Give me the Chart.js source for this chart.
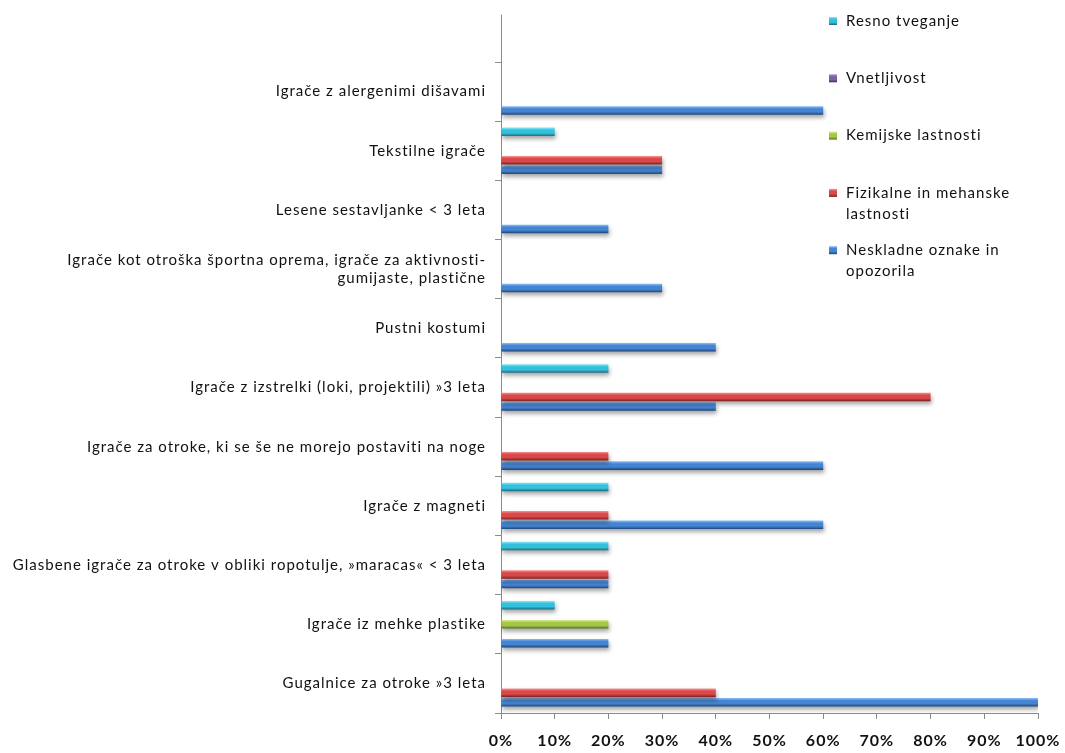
<!DOCTYPE html>
<html>
<head>
<meta charset="utf-8">
<script src="https://cdn.jsdelivr.net/npm/chart.js@4.4.0/dist/chart.umd.min.js"></script>
<style>
  html, body { margin: 0; padding: 0; background: #fff; }
  #wrap { width: 1065px; height: 753px; position: relative; }
</style>
</head>
<body>
<div id="wrap"><canvas id="canvas"></canvas></div>
<script>
// categories, top to bottom
var kategorije = [
  "Igrače z alergenimi dišavami",
  "Tekstilne igrače",
  "Lesene sestavljanke < 3 leta",
  ["Igrače kot otroška športna oprema, igrače za aktivnosti-", "gumijaste, plastične"],
  "Pustni kostumi",
  "Igrače z izstrelki (loki, projektili) »3 leta",
  "Igrače za otroke, ki se še ne morejo postaviti na noge",
  "Igrače z magneti",
  "Glasbene igrače za otroke v obliki ropotulje, »maracas« < 3 leta",
  "Igrače iz mehke plastike",
  "Gugalnice za otroke »3 leta"
];

// shares in %, same order as kategorije
var resnoTveganje      = [0, 10, 0, 0, 0, 20, 0, 20, 20, 10, 0];
var vnetljivost        = [0, 0, 0, 0, 0, 0, 0, 0, 0, 0, 0];
var kemijske           = [0, 0, 0, 0, 0, 0, 0, 0, 0, 20, 0];
var fizikalne          = [0, 30, 0, 0, 0, 80, 20, 20, 20, 0, 40];
var neskladneOznake    = [60, 30, 20, 30, 40, 40, 60, 60, 20, 20, 100];

var xTicks = [0, 10, 20, 30, 40, 50, 60, 70, 80, 90, 100];

// light / base / dark shades per series
var barve = {
  resno:     ["#8ae6f5", "#33c0dc", "#1b6a7b"],
  vnetlj:    ["#b096d0", "#7f5fa6", "#45305c"],
  kemijske:  ["#dbef9a", "#a6c64a", "#58701e"],
  fizikalne: ["#f79590", "#d9484a", "#781e1d"],
  neskladne: ["#8cc0f5", "#4584d2", "#1f4477"]
};

var serije = [
  { label: "Resno tveganje", data: resnoTveganje, c: barve.resno },
  { label: "Vnetljivost", data: vnetljivost, c: barve.vnetlj },
  { label: "Kemijske lastnosti", data: kemijske, c: barve.kemijske },
  { label: "Fizikalne in mehanske lastnosti", data: fizikalne, c: barve.fizikalne },
  { label: "Neskladne oznake in opozorila", data: neskladneOznake, c: barve.neskladne }
];

var gray = "#8a8a8a";
var razmik = "1px"; // wide letter spacing of the labels

function gradient(ctx, top, h, c) {
  var g = ctx.createLinearGradient(0, top, 0, top + h);
  g.addColorStop(0, c[0]);
  g.addColorStop(0.3, c[1]);
  g.addColorStop(0.65, c[1]);
  g.addColorStop(1, c[2]);
  return g;
}

// letter spacing has to be set again after every canvas resize
var pisava = {
  id: "pisava",
  beforeLayout: function(chart) { chart.ctx.letterSpacing = razmik; },
  beforeDraw: function(chart) { chart.ctx.letterSpacing = razmik; }
};

// shaded bars with a soft drop shadow
var senca = {
  id: "senca",
  beforeDatasetsDraw: function(chart) {
    var ctx = chart.ctx;
    chart.getSortedVisibleDatasetMetas().forEach(function(meta) {
      var c = serije[meta.index].c;
      meta.data.forEach(function(el) {
        var top = el.y - el.height / 2;
        el.options = Object.assign({}, el.options, { backgroundColor: gradient(ctx, top, el.height, c) });
      });
    });
    ctx.save();
    ctx.shadowColor = "rgba(0,0,0,0.35)";
    ctx.shadowOffsetX = 1;
    ctx.shadowOffsetY = 3;
    ctx.shadowBlur = 4;
  },
  afterDatasetsDraw: function(chart) {
    chart.ctx.restore();
  }
};

// y axis line runs up past the first category
var osY = {
  id: "osY",
  afterDraw: function(chart) {
    var a = chart.chartArea, ctx = chart.ctx;
    var korak = (a.bottom - a.top) / kategorije.length;
    ctx.save();
    ctx.strokeStyle = gray;
    ctx.lineWidth = 1;
    ctx.beginPath();
    ctx.moveTo(a.left + 0.5, a.top - korak * 0.8);
    ctx.lineTo(a.left + 0.5, a.top);
    ctx.stroke();
    ctx.restore();
  }
};

// legend drawn over the upper right of the plot
var legenda = {
  id: "legenda",
  afterDraw: function(chart, args, opts) {
    var ctx = chart.ctx;
    ctx.save();
    ctx.font = opts.font;
    ctx.textBaseline = "middle";
    ctx.textAlign = "left";
    serije.forEach(function(s, i) {
      var y = opts.top + i * opts.step;
      var sq = 8;
      ctx.fillStyle = gradient(ctx, y - sq / 2, sq, s.c);
      ctx.fillRect(opts.left, y - sq / 2, sq, sq);
      // wrap words
      var words = s.label.split(" "), lines = [], line = "";
      words.forEach(function(w) {
        var t = line ? line + " " + w : w;
        if (ctx.measureText(t).width > opts.maxWidth && line) { lines.push(line); line = w; }
        else line = t;
      });
      lines.push(line);
      ctx.fillStyle = "#111";
      lines.forEach(function(l, k) {
        ctx.fillText(l, opts.left + 17, y + k * opts.lineHeight);
      });
    });
    ctx.restore();
  }
};

var ctx = document.getElementById("canvas").getContext("2d");

var graf = new Chart(ctx, {
  type: "bar",
  data: {
    labels: kategorije,
    datasets: serije.map(function(s) {
      return {
        label: s.label,
        data: s.data,
        backgroundColor: s.c[1],
        borderWidth: 0,
        categoryPercentage: 0.8,
        barPercentage: 0.9
      };
    })
  },
  options: {
    indexAxis: "y",
    responsive: true,
    maintainAspectRatio: false,
    animation: false,
    layout: { padding: { top: 62, right: 27, left: 0, bottom: 0 } },
    plugins: {
      legend: { display: false },
      tooltip: { enabled: false },
      legenda: { left: 829, top: 21, step: 57.3, lineHeight: 21, maxWidth: 185, font: "15px Lato" }
    },
    scales: {
      x: {
        min: 0,
        max: 100,
        afterBuildTicks: function(s) { s.ticks = xTicks.map(function(v) { return { value: v }; }); },
        ticks: {
          callback: function(v) { return v + "%"; },
          color: "#111",
          font: { family: "Lato", size: 16, weight: "bold" },
          padding: 12,
          maxRotation: 0
        },
        grid: { drawOnChartArea: false, tickLength: 6, color: gray },
        border: { color: gray },
        afterFit: function(s) { s.height = 40; s.paddingLeft = 0; s.paddingRight = 0; }
      },
      y: {
        ticks: {
          color: "#111",
          font: { family: "Lato", size: 15 },
          padding: 9,
          crossAlign: "near"
        },
        grid: { drawOnChartArea: false, tickLength: 6, color: gray },
        border: { color: gray },
        afterFit: function(s) { s.width = 501; }
      }
    }
  },
  plugins: [pisava, senca, osY, legenda]
});
</script>
</body>
</html>
